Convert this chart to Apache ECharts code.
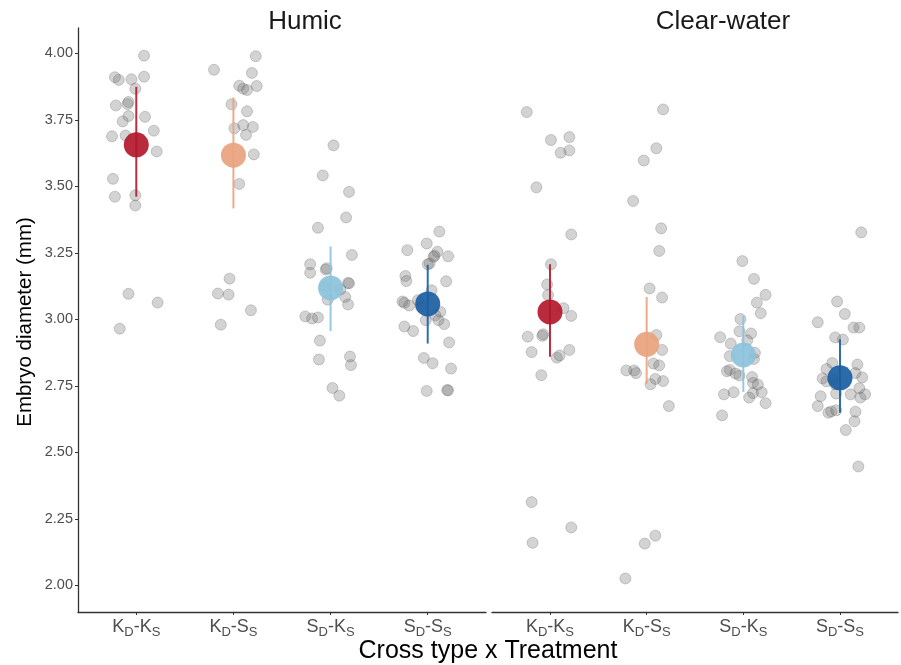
<!DOCTYPE html>
<html>
<head>
<meta charset="utf-8">
<script src="https://cdn.jsdelivr.net/npm/echarts@6/dist/echarts.min.js"></script>
<style>
  html, body { margin: 0; padding: 0; background: #fff; }
  #main { width: 901px; height: 665px; }
</style>
</head>
<body>
<div id="main"></div>
<script>
// facets and cross types
var facets = ['Humic', 'Clear-water'];
var crossLabels = [['K', 'D', 'K', 'S'], ['K', 'D', 'S', 'S'], ['S', 'D', 'K', 'S'], ['S', 'D', 'S', 'S']];
var crossColors = ['#B2182B', '#E8A37D', '#8CC2DC', '#1A5DA2'];
var yTicks = [2.00, 2.25, 2.50, 2.75, 3.00, 3.25, 3.50, 3.75, 4.00];

// raw observations: [jitter offset, diameter]
var humicKDKS = [[0.08,3.991],[-0.22,3.910],[-0.18,3.900],[-0.05,3.902],[0.08,3.912],[-0.01,3.867],[-0.21,3.804],[-0.09,3.809],[-0.08,3.817],[-0.08,3.764],[-0.14,3.744],[0.09,3.761],[0.18,3.709],[-0.25,3.688],[-0.11,3.691],[0.21,3.631],[-0.24,3.528],[-0.22,3.461],[-0.01,3.466],[-0.01,3.428],[-0.08,3.096],[0.22,3.063],[-0.17,2.965]];
var humicKDSS = [[0.23,3.989],[-0.20,3.938],[0.19,3.926],[0.06,3.878],[0.10,3.867],[0.14,3.862],[0.24,3.877],[-0.02,3.808],[0.14,3.782],[0.10,3.730],[0.01,3.718],[0.20,3.723],[0.13,3.693],[0.21,3.620],[0.06,3.509],[-0.04,3.153],[-0.16,3.097],[-0.05,3.093],[0.18,3.034],[-0.13,2.980]];
var humicSDKS = [[0.03,3.654],[-0.08,3.541],[0.19,3.479],[0.16,3.383],[-0.13,3.344],[0.22,3.242],[-0.21,3.207],[-0.21,3.175],[-0.05,3.187],[-0.04,3.192],[-0.06,3.122],[0.18,3.137],[0.19,3.135],[0.10,3.112],[-0.03,3.074],[0.15,3.084],[0.18,3.056],[-0.26,3.011],[-0.19,3.003],[-0.13,3.007],[-0.11,2.920],[-0.12,2.849],[0.20,2.860],[0.21,2.828],[0.02,2.742],[0.09,2.713]];
var humicSDSS = [[0.12,3.330],[-0.21,3.260],[-0.01,3.285],[0.10,3.254],[0.07,3.239],[0.06,3.235],[0.21,3.237],[0.02,3.210],[0.00,3.207],[-0.23,3.163],[-0.22,3.144],[0.19,3.143],[0.04,3.109],[-0.26,3.067],[-0.24,3.062],[-0.19,3.052],[-0.10,3.072],[-0.07,3.047],[0.13,3.028],[0.08,3.015],[-0.02,2.997],[0.11,2.997],[0.17,2.982],[-0.24,2.973],[-0.15,2.956],[0.22,2.913],[-0.04,2.855],[0.05,2.835],[0.24,2.815],[-0.01,2.731],[0.20,2.734],[0.21,2.733]];
var clearKDKS = [[-0.24,3.779],[0.01,3.674],[0.20,3.685],[0.11,3.626],[0.20,3.635],[-0.14,3.496],[0.22,3.319],[0.01,3.207],[-0.03,3.131],[-0.02,3.091],[0.14,3.042],[0.22,3.013],[-0.23,2.935],[-0.08,2.938],[-0.07,2.944],[-0.19,2.877],[0.20,2.885],[0.07,2.856],[0.10,2.864],[-0.09,2.790],[-0.19,2.313],[0.22,2.218],[-0.18,2.160]];
var clearKDSS = [[0.17,3.789],[0.10,3.643],[-0.03,3.597],[-0.14,3.445],[0.15,3.342],[0.13,3.257],[0.03,3.116],[0.16,3.082],[0.10,2.941],[0.16,2.885],[0.07,2.834],[0.13,2.827],[-0.21,2.808],[-0.13,2.808],[-0.11,2.798],[0.09,2.776],[0.17,2.768],[0.04,2.756],[0.23,2.674],[0.09,2.187],[-0.02,2.157],[-0.22,2.026]];
var clearSDKS = [[-0.01,3.219],[0.11,3.152],[0.23,3.092],[0.14,3.063],[0.18,3.023],[-0.03,3.001],[-0.04,2.955],[0.08,2.947],[-0.24,2.933],[0.04,2.921],[-0.13,2.909],[0.12,2.874],[-0.14,2.862],[0.11,2.851],[-0.17,2.805],[-0.14,2.810],[-0.08,2.796],[-0.04,2.789],[0.09,2.783],[0.10,2.761],[0.15,2.755],[-0.20,2.718],[-0.10,2.726],[0.10,2.723],[0.19,2.726],[0.06,2.706],[0.23,2.685],[-0.22,2.639]];
var clearSDSS = [[-0.03,3.067],[0.05,3.020],[-0.23,2.989],[0.14,2.969],[0.20,2.969],[-0.05,2.932],[0.03,2.924],[-0.08,2.836],[0.18,2.830],[-0.14,2.813],[0.16,2.798],[-0.18,2.778],[-0.14,2.767],[-0.07,2.773],[0.23,2.782],[-0.05,2.756],[0.20,2.741],[-0.04,2.721],[0.11,2.718],[0.21,2.706],[0.26,2.718],[-0.20,2.711],[-0.23,2.674],[-0.12,2.649],[-0.09,2.654],[-0.04,2.658],[0.16,2.653],[0.15,2.617],[0.06,2.584],[0.19,2.447],[0.22,3.327]];

// group summaries: [mean, lower, upper]
var humicMeans = [[3.656, 3.461, 3.874], [3.617, 3.417, 3.834], [3.118, 2.956, 3.274], [3.058, 2.909, 3.205]];
var clearMeans = [[3.028, 2.859, 3.207], [2.906, 2.758, 3.084], [2.866, 2.727, 3.013], [2.780, 2.649, 2.925]];

var rawByFacet = [[humicKDKS, humicKDSS, humicSDKS, humicSDSS], [clearKDKS, clearKDSS, clearSDKS, clearSDSS]];
var meansByFacet = [humicMeans, clearMeans];

var baseFont = 'Liberation Sans, Arial, sans-serif';

function crossLabel(v) {
    var p = crossLabels[Math.round(v) - 1];
    if (!p) return '';
    return '{n|' + p[0] + '}{s|' + p[1] + '}{n|-' + p[2] + '}{s|' + p[3] + '}';
}

var chart = echarts.init(document.getElementById('main'));

var grids = [
    { left: 78, top: 28, width: 408, height: 584 },
    { left: 492, top: 28, width: 406, height: 584 }
];

var xAxes = [], yAxes = [], series = [];
for (var f = 0; f < 2; f++) {
    xAxes.push({
        type: 'value', gridIndex: f, min: 0.4, max: 4.6,
        axisLine: { show: true, lineStyle: { color: '#333', width: 1.3 } },
        axisTick: { show: true, length: 3, customValues: [1, 2, 3, 4], lineStyle: { color: '#333' } },
        splitLine: { show: false },
        axisLabel: {
            customValues: [1, 2, 3, 4], margin: 6,
            formatter: crossLabel,
            rich: {
                n: { fontSize: 18, color: '#4d4d4d', fontFamily: baseFont, lineHeight: 18, verticalAlign: 'top' },
                s: { fontSize: 13, color: '#4d4d4d', fontFamily: baseFont, lineHeight: 21, verticalAlign: 'bottom' }
            }
        }
    });
    yAxes.push({
        type: 'value', gridIndex: f, min: 1.9, max: 4.095,
        axisLine: { show: f === 0, lineStyle: { color: '#333', width: 1.3 } },
        axisTick: { show: f === 0, length: 3, customValues: yTicks, lineStyle: { color: '#333' } },
        splitLine: { show: false },
        axisLabel: {
            show: f === 0, customValues: yTicks, margin: 5,
            color: '#4d4d4d', fontSize: 14.5, fontFamily: baseFont,
            formatter: function (v) { return v.toFixed(2); }
        }
    });

    // jittered raw points
    for (var g = 0; g < 4; g++) {
        var pts = rawByFacet[f][g].map(function (d) { return [g + 1 + d[0], d[1]]; });
        series.push({
            type: 'scatter', xAxisIndex: f, yAxisIndex: f,
            symbolSize: 11, data: pts, silent: true, z: 2,
            itemStyle: { color: 'rgba(110,110,110,0.38)', borderColor: 'rgba(70,70,70,0.3)', borderWidth: 1 }
        });
    }

    // error bars
    var barData = meansByFacet[f].map(function (m, i) { return [i + 1, m[1], m[2], i]; });
    series.push({
        type: 'custom', xAxisIndex: f, yAxisIndex: f, z: 3, silent: true,
        data: barData,
        renderItem: function (params, api) {
            var lo = api.coord([api.value(0), api.value(1)]);
            var hi = api.coord([api.value(0), api.value(2)]);
            return {
                type: 'line',
                shape: { x1: lo[0], y1: lo[1], x2: hi[0], y2: hi[1] },
                style: { stroke: crossColors[api.value(3)], lineWidth: 2, opacity: 0.9 }
            };
        }
    });

    // group means
    series.push({
        type: 'scatter', xAxisIndex: f, yAxisIndex: f, z: 4, silent: true,
        symbolSize: 25,
        data: meansByFacet[f].map(function (m, i) {
            return { value: [i + 1, m[0]], itemStyle: { color: crossColors[i], opacity: 0.92 } };
        })
    });
}

chart.setOption({
    animation: false,
    backgroundColor: '#fff',
    grid: grids,
    xAxis: xAxes,
    yAxis: yAxes,
    series: series,
    graphic: [
        { type: 'text', x: 305, y: 22, style: { text: facets[0], fontSize: 26, fill: '#1a1a1a', fontFamily: baseFont, align: 'center', verticalAlign: 'middle' } },
        { type: 'text', x: 723, y: 22, style: { text: facets[1], fontSize: 26, fill: '#1a1a1a', fontFamily: baseFont, align: 'center', verticalAlign: 'middle' } },
        { type: 'text', x: 488, y: 651, style: { text: 'Cross type x Treatment', fontSize: 25, fill: '#000', fontFamily: baseFont, align: 'center', verticalAlign: 'middle' } },
        { type: 'text', x: 25, y: 322, rotation: Math.PI / 2,
          style: { text: 'Embryo diameter (mm)', fontSize: 20.5, fill: '#000', fontFamily: baseFont, align: 'center', verticalAlign: 'middle' } }
    ]
});
</script>
</body>
</html>
